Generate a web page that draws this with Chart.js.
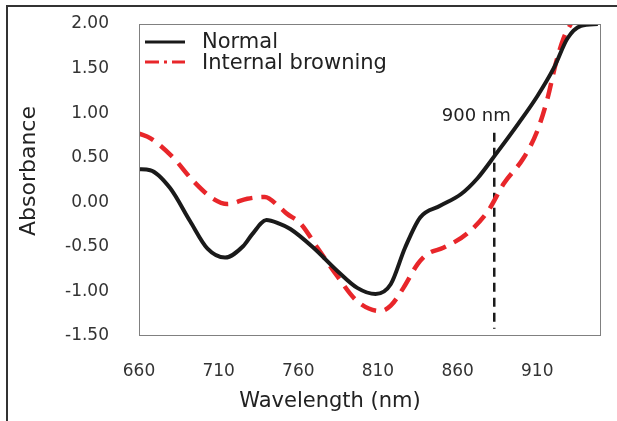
<!DOCTYPE html>
<html>
<head>
<meta charset="utf-8">
<script src="https://cdn.jsdelivr.net/npm/chart.js@4"></script>
<style>
  body { margin: 0; background: #fff; }
  #wrap { width: 617px; height: 421px; }
</style>
</head>
<body>
<div id="wrap"><canvas id="chart" width="617" height="421"></canvas></div>
<script>
// series
const seriesNames = ['Normal', 'Internal browning'];
const normalX = [660, 667, 679.5, 692, 703, 714, 725.5, 731, 740, 748, 755, 769.5, 784.5, 797, 808.5, 818, 827, 836.5, 849, 862, 872.5, 884, 898, 910, 920.5, 929, 937.5, 948];
const normalY = [0.37, 0.36, 0.16, -0.21, -0.52, -0.62, -0.49, -0.36, -0.20, -0.24, -0.30, -0.51, -0.77, -0.96, -1.03, -0.92, -0.51, -0.17, -0.04, 0.09, 0.27, 0.54, 0.88, 1.19, 1.51, 1.84, 1.98, 2.0];
const browningX = [660, 667, 681.5, 694, 706.5, 715.5, 728, 739, 748.5, 753, 761.5, 772, 784.5, 797, 811.5, 818, 826, 835, 841, 851, 866, 879, 889, 901.5, 910, 916.5, 921.5, 926.5, 931, 934];
const browningY = [0.77, 0.72, 0.50, 0.24, 0.04, -0.02, 0.04, 0.06, -0.06, -0.13, -0.24, -0.51, -0.83, -1.11, -1.22, -1.16, -0.96, -0.69, -0.58, -0.51, -0.35, -0.10, 0.21, 0.50, 0.80, 1.17, 1.55, 1.84, 2.0, 2.1];
const markerX = [883, 883];
const markerY = [0.78, -1.42];
const markerLabel = '900 nm';
const xTicks = [660, 710, 760, 810, 860, 910];
const yTicks = [-1.5, -1.0, -0.5, 0, 0.5, 1.0, 1.5, 2.0];

const FONT = '"DejaVu Sans", sans-serif';

function pts(xs, ys) {
  return xs.map((x, i) => ({ x: x, y: ys[i] }));
}

// frame, plot border, legend, axis titles, marker label
const decor = {
  id: 'decor',
  beforeDraw(chart) {
    const c = chart.ctx;
    c.save();
    c.strokeStyle = '#333';
    c.lineWidth = 2;
    c.beginPath();
    c.moveTo(7, 421);
    c.lineTo(7, 6);
    c.lineTo(617, 6);
    c.stroke();
    c.restore();
  },
  afterDraw(chart) {
    const c = chart.ctx;
    const a = chart.chartArea;
    c.save();
    c.strokeStyle = '#808080';
    c.lineWidth = 1;
    c.strokeRect(a.left + 0.5, a.top + 0.5, a.right - a.left - 1, a.bottom - a.top - 1);

    // legend
    c.lineWidth = 3;
    c.strokeStyle = '#1a1a1a';
    c.beginPath(); c.moveTo(145, 42); c.lineTo(185, 42); c.stroke();
    c.strokeStyle = '#e8262a';
    c.setLineDash([14, 5, 3, 5]);
    c.beginPath(); c.moveTo(145, 62); c.lineTo(185, 62); c.stroke();
    c.setLineDash([]);
    c.fillStyle = '#222';
    c.font = '21px ' + FONT;
    c.textBaseline = 'alphabetic';
    c.textAlign = 'left';
    c.fillText(seriesNames[0], 202, 48);
    c.fillText(seriesNames[1], 202, 69);

    // marker label
    const xs = chart.scales.x;
    c.font = '18px ' + FONT;
    c.textAlign = 'center';
    c.fillText(markerLabel, xs.getPixelForValue(markerX[0]) - 18, 121);

    // axis titles
    c.font = '21px ' + FONT;
    c.fillText('Wavelength (nm)', 330, 407);
    c.font = '22px ' + FONT;
    c.translate(35, 171);
    c.rotate(-Math.PI / 2);
    c.fillText('Absorbance', 0, 0);
    c.restore();
  }
};

new Chart(document.getElementById('chart'), {
  type: 'line',
  data: {
    datasets: [
      {
        label: seriesNames[0],
        data: pts(normalX, normalY),
        borderColor: '#1a1a1a',
        borderWidth: 4,
        pointRadius: 0,
        cubicInterpolationMode: 'monotone',
        clip: 0
      },
      {
        label: seriesNames[1],
        data: pts(browningX, browningY),
        borderColor: '#e8262a',
        borderWidth: 4.5,
        borderDash: [16, 9],
        pointRadius: 0,
        cubicInterpolationMode: 'monotone',
        clip: 0
      },
      {
        label: markerLabel,
        data: pts(markerX, markerY),
        borderColor: '#1a1a1a',
        borderWidth: 2.5,
        borderDash: [9, 6],
        pointRadius: 0
      }
    ]
  },
  options: {
    responsive: false,
    animation: false,
    layout: { padding: { top: 24, right: 16, left: 0, bottom: 0 } },
    plugins: {
      legend: { display: false },
      tooltip: { enabled: false }
    },
    scales: {
      x: {
        type: 'linear',
        min: 660,
        max: 950,
        grid: { display: false, drawTicks: false },
        border: { display: false },
        afterBuildTicks: s => { s.ticks = xTicks.map(v => ({ value: v })); },
        afterFit: s => { s.height = 85; s.paddingLeft = 0; s.paddingRight = 0; },
        ticks: {
          padding: 25,
          color: '#333',
          font: { family: FONT, size: 17 },
          maxRotation: 0,
          autoSkip: false
        }
      },
      y: {
        min: -1.5,
        max: 2.0,
        grid: { display: false, drawTicks: false },
        border: { display: false },
        afterBuildTicks: s => { s.ticks = yTicks.map(v => ({ value: v })); },
        afterFit: s => { s.width = 139; s.paddingTop = 0; s.paddingBottom = 0; },
        ticks: {
          padding: 30,
          color: '#333',
          font: { family: FONT, size: 17 },
          callback: v => v.toFixed(2)
        }
      }
    }
  },
  plugins: [decor]
});
</script>
</body>
</html>
